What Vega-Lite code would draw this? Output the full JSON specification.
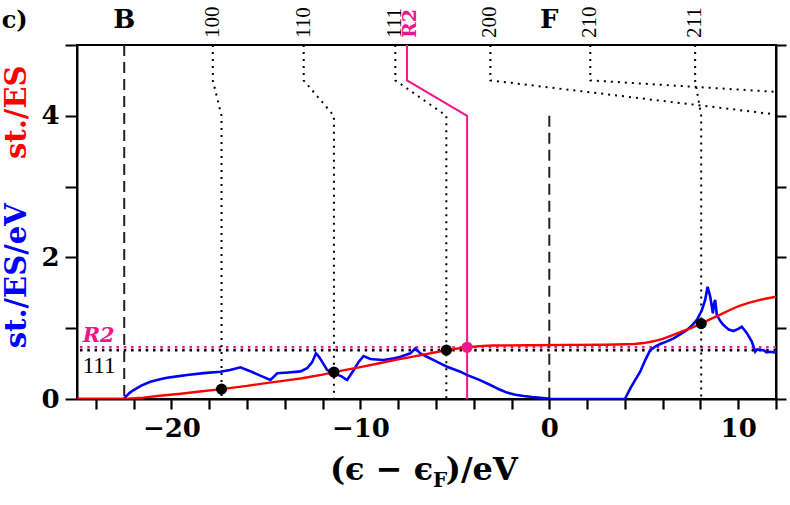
{
  "$schema": "https://vega.github.io/schema/vega-lite/v6.json",
  "width": 699,
  "height": 354,
  "autosize": {"type": "none"},
  "padding": {"left": 77, "top": 45, "right": 14, "bottom": 106},
  "background": "white",
  "config": {
    "view": {"stroke": "black", "strokeWidth": 2},
    "axis": {"grid": false, "domainColor": "black", "domainWidth": 2, "tickColor": "black", "tickWidth": 2, "labelColor": "black", "labelFont": "DejaVu Serif", "labelFontWeight": "bold", "labelFontSize": 26, "labelOverlap": false, "labelFlush": false}
  },
  "datasets": {
    "dos": [
      {"e": -25, "v": 0}, {"e": -22.5, "v": 0}, {"e": -22.43, "v": 0.03}, {"e": -22.2, "v": 0.09}, {"e": -22.0, "v": 0.127},
      {"e": -21.6, "v": 0.19}, {"e": -21.12, "v": 0.244}, {"e": -20.6, "v": 0.28}, {"e": -20.23, "v": 0.3}, {"e": -19.7, "v": 0.32},
      {"e": -19.17, "v": 0.34}, {"e": -18.3, "v": 0.365}, {"e": -17.41, "v": 0.386}, {"e": -16.9, "v": 0.41}, {"e": -16.35, "v": 0.448},
      {"e": -15.9, "v": 0.4}, {"e": -15.3, "v": 0.33}, {"e": -14.76, "v": 0.268}, {"e": -14.4, "v": 0.363}, {"e": -13.8, "v": 0.375},
      {"e": -13.17, "v": 0.39}, {"e": -12.82, "v": 0.434}, {"e": -12.55, "v": 0.52}, {"e": -12.35, "v": 0.645}, {"e": -12.2, "v": 0.6},
      {"e": -12.03, "v": 0.527}, {"e": -11.76, "v": 0.41}, {"e": -11.41, "v": 0.365}, {"e": -11.0, "v": 0.32}, {"e": -10.7, "v": 0.268},
      {"e": -10.35, "v": 0.41}, {"e": -10.1, "v": 0.52}, {"e": -9.83, "v": 0.607}, {"e": -9.47, "v": 0.565}, {"e": -9.0, "v": 0.555},
      {"e": -8.77, "v": 0.55}, {"e": -8.3, "v": 0.57}, {"e": -7.88, "v": 0.597}, {"e": -7.35, "v": 0.645}, {"e": -7.09, "v": 0.716},
      {"e": -6.83, "v": 0.645}, {"e": -6.5, "v": 0.6}, {"e": -6.12, "v": 0.55}, {"e": -5.75, "v": 0.5}, {"e": -5.41, "v": 0.456},
      {"e": -4.71, "v": 0.386}, {"e": -4.37, "v": 0.34}, {"e": -3.7, "v": 0.27}, {"e": -3.12, "v": 0.198}, {"e": -2.6, "v": 0.13},
      {"e": -2.24, "v": 0.09}, {"e": -1.8, "v": 0.06}, {"e": -1.36, "v": 0.042}, {"e": -0.9, "v": 0.028}, {"e": -0.48, "v": 0.018},
      {"e": 0.05, "v": 0.003}, {"e": 0.2, "v": 0}, {"e": 4.0, "v": 0}, {"e": 4.1, "v": 0.05}, {"e": 4.29, "v": 0.15},
      {"e": 4.55, "v": 0.27}, {"e": 4.81, "v": 0.386}, {"e": 5.08, "v": 0.55}, {"e": 5.34, "v": 0.69}, {"e": 5.6, "v": 0.74},
      {"e": 5.87, "v": 0.777}, {"e": 6.2, "v": 0.81}, {"e": 6.58, "v": 0.857}, {"e": 6.9, "v": 0.91}, {"e": 7.29, "v": 0.975},
      {"e": 7.55, "v": 1.04}, {"e": 7.81, "v": 1.116}, {"e": 8.08, "v": 1.257}, {"e": 8.25, "v": 1.4}, {"e": 8.38, "v": 1.586},
      {"e": 8.52, "v": 1.445}, {"e": 8.66, "v": 1.21}, {"e": 8.72, "v": 1.35}, {"e": 8.78, "v": 1.4}, {"e": 8.87, "v": 1.186},
      {"e": 9.05, "v": 1.1}, {"e": 9.22, "v": 1.045}, {"e": 9.5, "v": 0.98}, {"e": 9.75, "v": 0.96}, {"e": 10.0, "v": 0.99},
      {"e": 10.19, "v": 1.02}, {"e": 10.46, "v": 0.93}, {"e": 10.72, "v": 0.81}, {"e": 10.9, "v": 0.668}, {"e": 11.0, "v": 0.7},
      {"e": 11.34, "v": 0.69}, {"e": 11.5, "v": 0.66}, {"e": 11.69, "v": 0.668}, {"e": 11.9, "v": 0.66}, {"e": 12.0, "v": 0.69}
    ],
    "cumulative": [
      {"e": -25, "v": 0}, {"e": -22.5, "v": 0}, {"e": -21.5, "v": 0.02}, {"e": -20.5, "v": 0.05}, {"e": -19.5, "v": 0.075},
      {"e": -18.5, "v": 0.105}, {"e": -17.35, "v": 0.14}, {"e": -16, "v": 0.185}, {"e": -15, "v": 0.225}, {"e": -14, "v": 0.26},
      {"e": -13.17, "v": 0.29}, {"e": -12, "v": 0.345}, {"e": -11.4, "v": 0.38}, {"e": -10, "v": 0.45}, {"e": -9, "v": 0.505},
      {"e": -8, "v": 0.56}, {"e": -7, "v": 0.61}, {"e": -6, "v": 0.66}, {"e": -5.45, "v": 0.69}, {"e": -4.35, "v": 0.73},
      {"e": -3.5, "v": 0.75}, {"e": -3, "v": 0.755}, {"e": -1, "v": 0.76}, {"e": 1, "v": 0.765}, {"e": 3, "v": 0.767},
      {"e": 4.5, "v": 0.777}, {"e": 5.0, "v": 0.79}, {"e": 5.5, "v": 0.815}, {"e": 6, "v": 0.85}, {"e": 6.5, "v": 0.9},
      {"e": 7, "v": 0.95}, {"e": 7.5, "v": 1.0}, {"e": 8.04, "v": 1.065}, {"e": 8.5, "v": 1.125}, {"e": 9, "v": 1.185},
      {"e": 9.5, "v": 1.25}, {"e": 10, "v": 1.31}, {"e": 10.5, "v": 1.355}, {"e": 11, "v": 1.39}, {"e": 11.5, "v": 1.42},
      {"e": 12, "v": 1.445}
    ],
    "crossings": [
      {"label": "100", "e": -17.35, "v": 0.14}, {"label": "110", "e": -11.4, "v": 0.38},
      {"label": "111", "e": -5.45, "v": 0.69}, {"label": "211", "e": 8.04, "v": 1.065},
      {"label": "R2", "e": -4.35, "v": 0.73}
    ],
    "leaders": [
      {"label": "100", "i": 0, "e": -17.81, "v": 5}, {"label": "100", "i": 1, "e": -17.81, "v": 4.5}, {"label": "100", "i": 2, "e": -17.35, "v": 4}, {"label": "100", "i": 3, "e": -17.35, "v": 0},
      {"label": "110", "i": 0, "e": -13.0, "v": 5}, {"label": "110", "i": 1, "e": -13.0, "v": 4.5}, {"label": "110", "i": 2, "e": -11.4, "v": 4}, {"label": "110", "i": 3, "e": -11.4, "v": 0},
      {"label": "111", "i": 0, "e": -8.15, "v": 5}, {"label": "111", "i": 1, "e": -8.15, "v": 4.5}, {"label": "111", "i": 2, "e": -5.45, "v": 4}, {"label": "111", "i": 3, "e": -5.45, "v": 0},
      {"label": "R2", "i": 0, "e": -7.53, "v": 5}, {"label": "R2", "i": 1, "e": -7.53, "v": 4.5}, {"label": "R2", "i": 2, "e": -4.35, "v": 4}, {"label": "R2", "i": 3, "e": -4.35, "v": 0},
      {"label": "200", "i": 0, "e": -3.12, "v": 5}, {"label": "200", "i": 1, "e": -3.12, "v": 4.5}, {"label": "200", "i": 2, "e": 12.6, "v": 4}, {"label": "200", "i": 3, "e": 12.6, "v": 0},
      {"label": "210", "i": 0, "e": 2.17, "v": 5}, {"label": "210", "i": 1, "e": 2.17, "v": 4.5}, {"label": "210", "i": 2, "e": 32.5, "v": 4}, {"label": "210", "i": 3, "e": 32.5, "v": 0},
      {"label": "211", "i": 0, "e": 7.72, "v": 5}, {"label": "211", "i": 1, "e": 7.72, "v": 4.5}, {"label": "211", "i": 2, "e": 8.04, "v": 4}, {"label": "211", "i": 3, "e": 8.04, "v": 0}
    ],
    "edges": [{"label": "B", "e": -22.5, "top": 5}, {"label": "F", "e": 0, "top": 4}],
    "levels": [{"label": "R2", "v": 0.73}, {"label": "111", "v": 0.69}],
    "note": [{}]
  },
  "layer": [
    {
      "data": {"name": "levels"},
      "transform": [{"filter": "datum.label == '111'"}],
      "mark": {"type": "rule", "color": "black", "strokeWidth": 2.5, "strokeDash": [2.5, 4.8]},
      "encoding": {
        "y": {"field": "v", "type": "quantitative", "scale": {"domain": [0, 5], "nice": false}, "axis": null}
      }
    },
    {
      "data": {"name": "levels"},
      "transform": [{"filter": "datum.label == 'R2'"}],
      "mark": {"type": "rule", "color": "#f0168c", "strokeWidth": 2.5, "strokeDash": [2.5, 4.8]},
      "encoding": {
        "y": {"field": "v", "type": "quantitative", "scale": {"domain": [0, 5], "nice": false}, "axis": null}
      }
    },
    {
      "data": {"name": "leaders"},
      "transform": [{"filter": "datum.label != 'R2'"}],
      "mark": {"type": "line", "color": "black", "strokeWidth": 2, "strokeDash": [2, 5], "clip": true},
      "encoding": {
        "x": {"field": "e", "type": "quantitative", "scale": {"domain": [-25, 12], "nice": false, "zero": false}, "axis": null},
        "y": {"field": "v", "type": "quantitative", "scale": {"domain": [0, 5], "nice": false}, "axis": null},
        "detail": {"field": "label", "type": "nominal"},
        "order": {"field": "i", "type": "quantitative"}
      }
    },
    {
      "data": {"name": "leaders"},
      "transform": [{"filter": "datum.label == 'R2'"}],
      "mark": {"type": "line", "color": "#f0168c", "strokeWidth": 2, "clip": true},
      "encoding": {
        "x": {"field": "e", "type": "quantitative", "scale": {"domain": [-25, 12], "nice": false, "zero": false}, "axis": null},
        "y": {"field": "v", "type": "quantitative", "scale": {"domain": [0, 5], "nice": false}, "axis": null},
        "order": {"field": "i", "type": "quantitative"}
      }
    },
    {
      "data": {"name": "edges"},
      "mark": {"type": "rule", "color": "#222222", "strokeWidth": 2, "strokeDash": [11, 6]},
      "encoding": {
        "x": {"field": "e", "type": "quantitative", "scale": {"domain": [-25, 12], "nice": false, "zero": false}, "axis": null},
        "y": {"field": "top", "type": "quantitative", "scale": {"domain": [0, 5], "nice": false}, "axis": null},
        "y2": {"datum": 0}
      }
    },
    {
      "data": {"name": "dos"},
      "mark": {"type": "line", "color": "#0000ff", "strokeWidth": 2.6, "clip": true},
      "encoding": {
        "x": {
          "field": "e", "type": "quantitative",
          "scale": {"domain": [-25, 12], "nice": false, "zero": false},
          "axis": {
            "orient": "bottom", "title": null,
            "values": [-24, -22, -20, -18, -16, -14, -12, -10, -8, -6, -4, -2, 0, 2, 4, 6, 8, 10, 12],
            "labelExpr": "datum.value % 10 == 0 ? format(datum.value, 'd') : ''",
            "labelOverlap": false, "ticks": true, "tickSize": 10, "tickWidth": 2.2, "tickColor": "#000000", "tickOpacity": 1, "labelPadding": 6
          }
        },
        "y": {
          "field": "v", "type": "quantitative",
          "scale": {"domain": [0, 5], "nice": false},
          "axis": {
            "orient": "right", "title": null, "values": [0, 1, 2, 3, 4, 5],
            "labels": false, "ticks": true, "tickSize": 10
          }
        }
      }
    },
    {
      "data": {"name": "cumulative"},
      "mark": {"type": "line", "color": "#ff0000", "strokeWidth": 2.4, "clip": true},
      "encoding": {
        "x": {"field": "e", "type": "quantitative", "scale": {"domain": [-25, 12], "nice": false, "zero": false}, "axis": null},
        "y": {
          "field": "v", "type": "quantitative",
          "scale": {"domain": [0, 5], "nice": false},
          "axis": {
            "orient": "left", "title": null, "values": [0, 1, 2, 3, 4, 5],
            "labelExpr": "datum.value % 2 == 0 && datum.value < 5 ? format(datum.value, 'd') : ''",
            "labelOverlap": false, "tickSize": 12, "labelPadding": 6
          }
        }
      }
    },
    {
      "data": {"name": "crossings"},
      "mark": {"type": "point", "filled": true, "opacity": 1, "size": 125},
      "encoding": {
        "x": {"field": "e", "type": "quantitative", "axis": null},
        "y": {"field": "v", "type": "quantitative", "axis": null},
        "color": {
          "field": "label", "type": "nominal", "legend": null,
          "scale": {"domain": ["100", "110", "111", "211", "R2"], "range": ["black", "black", "black", "black", "#f0168c"]}
        }
      }
    },
    {
      "data": {"name": "leaders"},
      "transform": [{"filter": "datum.i == 0 && datum.label != 'R2'"}],
      "mark": {"type": "text", "angle": 270, "align": "left", "baseline": "middle", "font": "Liberation Serif", "fontSize": 21, "color": "black"},
      "encoding": {
        "x": {"field": "e", "type": "quantitative", "axis": null},
        "y": {"datum": 5.1, "type": "quantitative", "axis": null},
        "text": {"field": "label", "type": "nominal"}
      }
    },
    {
      "data": {"name": "leaders"},
      "transform": [{"filter": "datum.i == 0 && datum.label == 'R2'"}],
      "mark": {"type": "text", "angle": 270, "align": "left", "baseline": "middle", "font": "DejaVu Serif", "fontWeight": "bold", "fontSize": 19, "color": "#f0168c", "dy": 3},
      "encoding": {
        "x": {"field": "e", "type": "quantitative", "axis": null},
        "y": {"datum": 5.1, "type": "quantitative", "axis": null},
        "text": {"field": "label", "type": "nominal"}
      }
    },
    {
      "data": {"name": "edges"},
      "mark": {"type": "text", "align": "center", "baseline": "alphabetic", "font": "DejaVu Serif", "fontWeight": "bold", "fontSize": 26, "color": "black"},
      "encoding": {
        "x": {"field": "e", "type": "quantitative", "axis": null},
        "y": {"datum": 5.24, "type": "quantitative", "axis": null},
        "text": {"field": "label", "type": "nominal"}
      }
    },
    {
      "data": {"name": "levels"},
      "transform": [{"filter": "datum.label == 'R2'"}],
      "mark": {"type": "text", "align": "left", "baseline": "alphabetic", "font": "DejaVu Serif", "fontWeight": "bold", "fontStyle": "italic", "fontSize": 21, "color": "#f0168c", "dy": -5},
      "encoding": {
        "x": {"datum": -24.7, "type": "quantitative", "axis": null},
        "y": {"field": "v", "type": "quantitative", "axis": null},
        "text": {"field": "label", "type": "nominal"}
      }
    },
    {
      "data": {"name": "levels"},
      "transform": [{"filter": "datum.label == '111'"}],
      "mark": {"type": "text", "align": "left", "baseline": "top", "font": "Liberation Serif", "fontSize": 23, "color": "black", "dy": 5},
      "encoding": {
        "x": {"datum": -24.7, "type": "quantitative", "axis": null},
        "y": {"field": "v", "type": "quantitative", "axis": null},
        "text": {"field": "label", "type": "nominal"}
      }
    },
    {
      "data": {"name": "note"},
      "mark": {"type": "text", "align": "center", "baseline": "alphabetic", "font": "DejaVu Serif", "fontWeight": "bold", "fontSize": 24, "color": "black"},
      "encoding": {"x": {"datum": -28.3, "type": "quantitative", "axis": null}, "y": {"datum": 5.24, "type": "quantitative", "axis": null}, "text": {"value": "c)"}}
    },
    {
      "data": {"name": "note"},
      "mark": {"type": "text", "angle": 270, "align": "center", "baseline": "alphabetic", "font": "DejaVu Serif", "fontWeight": "bold", "fontSize": 29, "color": "#ff0000"},
      "encoding": {"x": {"datum": -27.7, "type": "quantitative", "axis": null}, "y": {"datum": 4.05, "type": "quantitative", "axis": null}, "text": {"value": "st./ES"}}
    },
    {
      "data": {"name": "note"},
      "mark": {"type": "text", "angle": 270, "align": "center", "baseline": "alphabetic", "font": "DejaVu Serif", "fontWeight": "bold", "fontSize": 29, "color": "#0000ff"},
      "encoding": {"x": {"datum": -27.7, "type": "quantitative", "axis": null}, "y": {"datum": 1.74, "type": "quantitative", "axis": null}, "text": {"value": "st./ES/eV"}}
    },
    {
      "data": {"name": "note"},
      "mark": {"type": "text", "align": "right", "baseline": "alphabetic", "font": "DejaVu Serif", "fontWeight": "bold", "fontSize": 32, "color": "black"},
      "encoding": {"x": {"datum": -6.15, "type": "quantitative", "axis": null}, "y": {"datum": -1.15, "type": "quantitative", "axis": null}, "text": {"value": "(ϵ − ϵ"}}
    },
    {
      "data": {"name": "note"},
      "mark": {"type": "text", "align": "left", "baseline": "alphabetic", "font": "DejaVu Serif", "fontWeight": "bold", "fontSize": 20, "color": "black"},
      "encoding": {"x": {"datum": -6.15, "type": "quantitative", "axis": null}, "y": {"datum": -1.24, "type": "quantitative", "axis": null}, "text": {"value": "F"}}
    },
    {
      "data": {"name": "note"},
      "mark": {"type": "text", "align": "left", "baseline": "alphabetic", "font": "DejaVu Serif", "fontWeight": "bold", "fontSize": 32, "color": "black"},
      "encoding": {"x": {"datum": -5.48, "type": "quantitative", "axis": null}, "y": {"datum": -1.15, "type": "quantitative", "axis": null}, "text": {"value": ")/eV"}}
    }
  ],
  "resolve": {"axis": {"x": "independent", "y": "independent"}}
}
